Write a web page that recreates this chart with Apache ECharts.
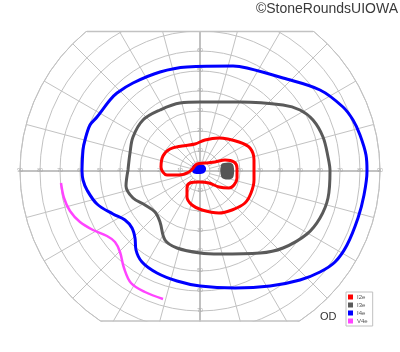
<!DOCTYPE html>
<html><head><meta charset="utf-8">
<script src="https://cdn.jsdelivr.net/npm/echarts/dist/echarts.min.js"></script>
<style>html,body{margin:0;padding:0;background:#fff}#c{width:400px;height:352px}</style>
</head><body><div id="c"></div>
<script>
// Isopter names / colours (legend order)
const isopterNames = ['I2e', 'I3e', 'I4e', 'V4e'];
const isopterColors = ['#ff0000', '#5a5a5a', '#0000ff', '#ff44ff'];

// Isopters: [horizontal degrees, vertical degrees]
const I2e = [[-3,2],[-5.5,-0.5],[-10.5,-2],[-16.5,-2],[-19.5,2],[-18.5,7.5],[-15,11],[-9,12.5],[-2.5,13.5],[2.5,15.5],[9.5,16.5],[19.5,14.5],[25,11.5],[27,5.5],[27,-4.5],[25.5,-11],[22.5,-16],[16,-19.5],[9.5,-21],[1,-19.5],[-4,-17],[-6.5,-13],[-6.5,-8.5],[-5,-6],[-0.5,-5.5],[4.5,-6],[9.5,-8],[14.5,-8.5],[17,-7],[18.5,-3.5],[18.5,1.5],[17,4.5],[12.5,5.5],[7.5,4.5],[2.5,4],[-1.5,3.5],[-3,2]];
const I3e = [[-36,0.5],[-35,9],[-33.5,17],[-28.5,25.5],[-20,30.5],[-10,34],[0,34.5],[20,34.5],[41.5,33],[50,30.5],[56.5,25.5],[61.5,17],[64,7],[65,0],[64,-13.5],[60,-23.5],[53.5,-31.5],[41.5,-38.5],[30,-41],[10,-41.5],[0,-41],[-11.5,-38.5],[-17.5,-34.5],[-20,-25.5],[-22.5,-20.5],[-27.5,-17],[-33.5,-13.5],[-37,-7.5],[-36,0.5]];
const I4e = [[-59,0],[-58.5,10.5],[-57.5,15.5],[-55,23],[-51.5,27],[-45,35.5],[-41.5,39],[-33.5,44],[-20,49.5],[-6.5,52],[16.5,52.5],[23.5,51.5],[41.5,46.5],[60,40.5],[71.5,32],[76.5,25.5],[80,18],[83,8],[83.5,0],[82,-12],[79,-23.5],[73.5,-37],[67.5,-45.5],[60,-50.5],[50,-54.5],[35,-57.5],[17.5,-58.5],[0,-57.5],[-11.5,-55],[-21.5,-51],[-29,-45.5],[-32,-39.5],[-32.5,-33.5],[-34,-28.5],[-37.5,-24.5],[-43.5,-21.5],[-51.5,-16.5],[-56.5,-9.5],[-58.5,-4.5],[-59,0]];
const V4e = [[-69.5,-6],[-68,-13.5],[-65,-20],[-60,-25.5],[-53.5,-29.5],[-46.5,-32.5],[-42.5,-35.5],[-40,-40.5],[-38,-48.5],[-34.5,-56],[-27.5,-60.5],[-18.5,-64]];

// Filled scotomas
const centralScotoma = [[-4,1.5],[-3,3.2],[1,3.2],[2.8,2],[2.8,0],[1.5,-1.2],[-3,-1.2],[-4,0]];
const blindSpot = [[10.5,3],[12,4],[15.5,4],[16.8,2.5],[16.8,-2.5],[15.5,-4],[12,-4],[10.5,-2.5]];

// Layout constants
const CX = 200, CY = 171, R = 180, TOPY = 31, BOTY = 321, GRID_TOP = 31, GRID_H = 300;
const gridColor = '#c2c2c2';
const labelColor = '#a8a8a8';

const chart = echarts.init(document.getElementById('c'), null, {renderer: 'canvas'});

function fillSeries(name, pts, color) {
  return {
    type: 'custom', name: name, coordinateSystem: 'cartesian2d', xAxisIndex: 0, yAxisIndex: 0,
    data: [[0, 0]], silent: true, z: 5,
    renderItem: function (params, api) {
      return {type: 'polygon', shape: {points: pts.map(p => api.coord(p)), smooth: 0.4}, style: {fill: color}};
    }
  };
}
function lineSeries(name, pts, color, w) {
  return {type: 'line', name: name, data: pts, smooth: 0.35, symbol: 'none', clip: false,
    lineStyle: {color: color, width: w}, itemStyle: {color: color}, z: 6};
}
const halfW = dy => Math.sqrt(R * R - dy * dy);

chart.setOption({
  animation: false,
  backgroundColor: '#fff',
  textStyle: {fontFamily: 'Liberation Sans'},
  grid: {left: CX - R, width: 2 * R, top: GRID_TOP, height: GRID_H, containLabel: false},
  xAxis: {type: 'value', min: -90, max: 90, interval: 10, position: 'bottom',
    offset: -(GRID_TOP + GRID_H - CY),
    splitLine: {show: false}, axisTick: {show: false},
    axisLine: {onZero: false, lineStyle: {color: '#b8b8b8', width: 1.6}},
    axisLabel: {margin: 0, verticalAlign: 'middle', fontSize: 5, color: labelColor,
      formatter: v => (v === 0 ? '' : String(Math.abs(v))), showMinLabel: true, showMaxLabel: true}},
  yAxis: {type: 'value', min: -80, max: 70, interval: 10, position: 'left',
    offset: -(CX - (CX - R)),
    splitLine: {show: false}, axisTick: {show: false},
    axisLine: {onZero: false, lineStyle: {color: '#b8b8b8', width: 1.6}},
    axisLabel: {margin: 0, align: 'center', fontSize: 5, color: labelColor,
      formatter: v => (v === 0 || v === -80 ? '' : String(Math.abs(v)))}},
  polar: [
    {center: [CX, CY], radius: [0, R]},
    {center: [CX, CY], radius: [10, R]},
    {center: [CX, CY], radius: [0, 10]}
  ],
  angleAxis: [
    {polarIndex: 0, type: 'value', min: 0, max: 360, interval: 15, axisLine: {show: true, lineStyle: {color: gridColor, width: 1}},
      splitLine: {show: false}, axisTick: {show: false}, axisLabel: {show: false}},
    {polarIndex: 1, type: 'value', min: 0, max: 360, interval: 15, axisLine: {show: false},
      splitLine: {show: true, lineStyle: {color: gridColor, width: 1}}, axisTick: {show: false}, axisLabel: {show: false}},
    {polarIndex: 2, type: 'value', min: 0, max: 360, interval: 90, axisLine: {show: true, lineStyle: {color: gridColor, width: 1}},
      splitLine: {show: false}, axisTick: {show: false}, axisLabel: {show: false}}
  ],
  radiusAxis: [
    {polarIndex: 0, type: 'value', min: 0, max: 90, interval: 10, axisLine: {show: false}, axisTick: {show: false}, axisLabel: {show: false},
      splitLine: {show: true, lineStyle: {color: gridColor, width: 1}}},
    {polarIndex: 1, type: 'value', min: 5, max: 90, axisLine: {show: false}, axisTick: {show: false}, axisLabel: {show: false}, splitLine: {show: false}},
    {polarIndex: 2, type: 'value', min: 0, max: 5, axisLine: {show: false}, axisTick: {show: false}, axisLabel: {show: false}, splitLine: {show: false}}
  ],
  legend: {
    data: isopterNames, orient: 'vertical', left: 346, top: 292, z: 30,
    icon: 'rect', itemWidth: 5, itemHeight: 5, itemGap: 2,
    padding: [2, 5, 2, 2], backgroundColor: '#fff', borderColor: '#c0c0c0', borderWidth: 1, borderRadius: 0,
    textStyle: {fontSize: 6, color: '#555', padding: [0, 0, 0, -1]}
  },
  series: [
    fillSeries('central', centralScotoma, '#0000ff'),
    fillSeries('blind spot', blindSpot, '#555555'),
    lineSeries(isopterNames[0], I2e, isopterColors[0], 3),
    lineSeries(isopterNames[1], I3e, isopterColors[1], 3),
    lineSeries(isopterNames[2], I4e, isopterColors[2], 3),
    lineSeries(isopterNames[3], V4e, isopterColors[3], 2.5)
  ],
  graphic: [
    {type: 'rect', z: 20, shape: {x: 0, y: 0, width: 400, height: TOPY}, style: {fill: '#fff'}},
    {type: 'rect', z: 20, shape: {x: 0, y: BOTY + 0.5, width: 400, height: 352 - BOTY}, style: {fill: '#fff'}},
    {type: 'line', z: 21, shape: {x1: CX - halfW(CY - TOPY), y1: TOPY + 0.5, x2: CX + halfW(CY - TOPY), y2: TOPY + 0.5}, style: {stroke: gridColor, lineWidth: 1.5}},
    {type: 'line', z: 21, shape: {x1: CX - halfW(BOTY - CY), y1: BOTY, x2: CX + halfW(BOTY - CY), y2: BOTY}, style: {stroke: gridColor, lineWidth: 1.5}},
    {type: 'text', z: 30, right: 2, top: 2, style: {text: '©StoneRoundsUIOWA', fontSize: 14, fontFamily: 'Liberation Sans', fill: '#3a3a3a'}},
    {type: 'text', z: 30, left: 320, top: 311, style: {text: 'OD', fontSize: 11, fontFamily: 'Liberation Sans', fill: '#333'}}
  ]
});
</script></body></html>
